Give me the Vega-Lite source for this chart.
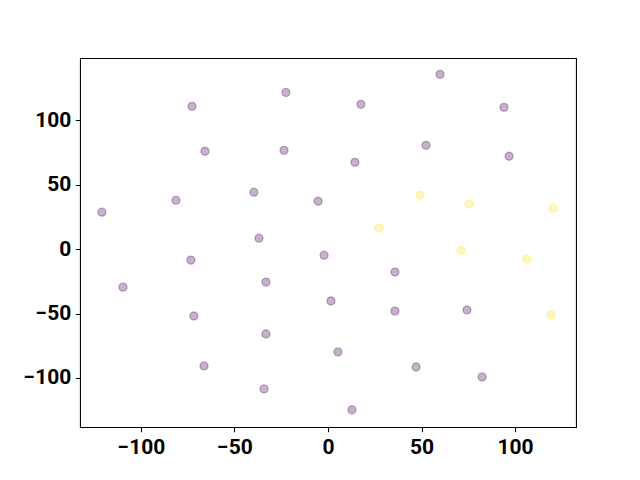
{
  "$schema": "https://vega.github.io/schema/vega-lite/v6.json",
  "width": 496,
  "height": 369,
  "padding": {"left": 80, "top": 58, "right": 64, "bottom": 53},
  "autosize": {"type": "none"},
  "background": "white",
  "config": {
    "view": {"stroke": "black", "strokeWidth": 1.07},
    "axis": {
      "labelFont": "Roboto",
      "labelFontWeight": "bold",
      "labelFontSize": 21,
      "labelColor": "black",
      "tickColor": "black",
      "tickSize": 4.7,
      "tickWidth": 1.07,
      "labelPadding": 4.5,
      "domain": false,
      "grid": false,
      "title": null
    }
  },
  "data": {
    "values": [
      {"x": 59.9, "y": 135.7, "c": 0},
      {"x": -22.5, "y": 121.7, "c": 0},
      {"x": -72.7, "y": 110.9, "c": 0},
      {"x": 17.6, "y": 112.4, "c": 0},
      {"x": 94.1, "y": 110.1, "c": 0},
      {"x": -65.8, "y": 76.0, "c": 0},
      {"x": -23.5, "y": 76.7, "c": 0},
      {"x": 52.4, "y": 80.6, "c": 0},
      {"x": 14.4, "y": 67.4, "c": 0},
      {"x": 96.8, "y": 72.1, "c": 0},
      {"x": -39.6, "y": 44.2, "c": 0},
      {"x": -81.3, "y": 38.0, "c": 0},
      {"x": -5.3, "y": 37.2, "c": 0},
      {"x": 49.2, "y": 41.9, "c": 1},
      {"x": 75.4, "y": 34.9, "c": 1},
      {"x": 120.3, "y": 31.8, "c": 1},
      {"x": -120.9, "y": 28.7, "c": 0},
      {"x": 27.3, "y": 16.3, "c": 1},
      {"x": -36.9, "y": 8.5, "c": 0},
      {"x": 71.1, "y": -0.8, "c": 1},
      {"x": 106.4, "y": -7.8, "c": 1},
      {"x": -2.1, "y": -4.7, "c": 0},
      {"x": -73.3, "y": -8.5, "c": 0},
      {"x": 35.8, "y": -17.8, "c": 0},
      {"x": -33.2, "y": -25.6, "c": 0},
      {"x": -109.6, "y": -29.5, "c": 0},
      {"x": 1.6, "y": -40.3, "c": 0},
      {"x": 35.8, "y": -48.1, "c": 0},
      {"x": 74.3, "y": -47.3, "c": 0},
      {"x": 119.3, "y": -51.2, "c": 1},
      {"x": -71.7, "y": -51.9, "c": 0},
      {"x": -33.2, "y": -65.9, "c": 0},
      {"x": 5.3, "y": -79.8, "c": 0},
      {"x": -66.3, "y": -90.7, "c": 0},
      {"x": 47.1, "y": -91.5, "c": 0},
      {"x": 82.4, "y": -99.2, "c": 0},
      {"x": -34.2, "y": -108.5, "c": 0},
      {"x": 12.8, "y": -124.8, "c": 0}
    ]
  },
  "mark": {"type": "point", "shape": "circle", "filled": false, "size": 64, "fillOpacity": 0.3, "strokeOpacity": 0.3, "strokeWidth": 1.33, "clip": false},
  "encoding": {
    "x": {"field": "x", "type": "quantitative", "scale": {"domain": [-132.6, 132.6], "nice": false, "zero": false}, "axis": {"values": [-100, -50, 0, 50, 100]}},
    "y": {"field": "y", "type": "quantitative", "scale": {"domain": [-138.1, 148.4], "nice": false, "zero": false}, "axis": {"values": [-100, -50, 0, 50, 100]}},
    "fill": {"field": "c", "type": "nominal", "scale": {"domain": [0, 1], "range": ["#440154", "#fde725"]}, "legend": null},
    "stroke": {"field": "c", "type": "nominal", "scale": {"domain": [0, 1], "range": ["#440154", "#fde725"]}, "legend": null}
  }
}
